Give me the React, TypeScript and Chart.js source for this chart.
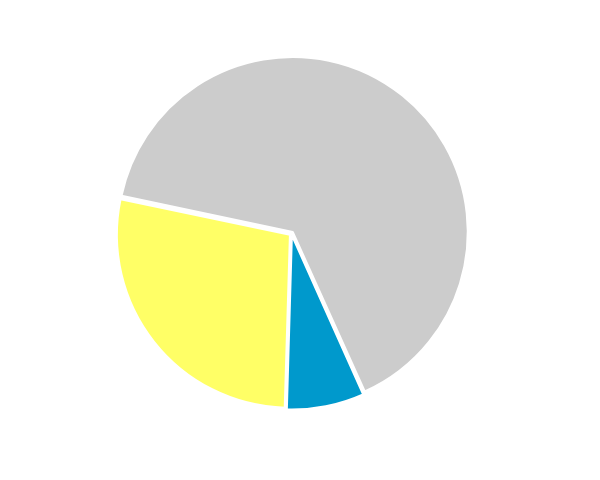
import { useEffect, useRef } from 'react';
import Chart from 'chart.js/auto';

const labels = ['Grey', 'Blue', 'Yellow'];
const values = [65, 7.2, 27.8];
const colors = ['#cccccc', '#0099cc', '#ffff66'];

export default function App() {
  const canvasRef = useRef<HTMLCanvasElement>(null);
  const chartRef = useRef<Chart | null>(null);

  useEffect(() => {
    document.body.style.margin = '0';
    if (!canvasRef.current) return;
    const ctx = canvasRef.current.getContext('2d');
    if (!ctx) return;

    if (chartRef.current) {
      chartRef.current.destroy();
    }

    chartRef.current = new Chart(ctx, {
      type: 'pie',
      data: {
        labels,
        datasets: [
          {
            data: values,
            backgroundColor: colors,
            borderColor: '#fff',
            borderWidth: 2,
            offset: 8
          }
        ]
      },
      options: {
        responsive: false,
        animation: false,
        rotation: -78.2,
        radius: 173,
        layout: { padding: { left: 0, top: 0, right: 17, bottom: 13 } },
        plugins: {
          legend: { display: false },
          tooltip: { enabled: false }
        }
      }
    });

    return () => {
      if (chartRef.current) {
        chartRef.current.destroy();
        chartRef.current = null;
      }
    };
  }, []);

  return (
    <div style={{ width: 600, height: 480, background: '#fff' }}>
      <canvas ref={canvasRef} width={600} height={480} style={{ display: 'block' }} />
    </div>
  );
}
